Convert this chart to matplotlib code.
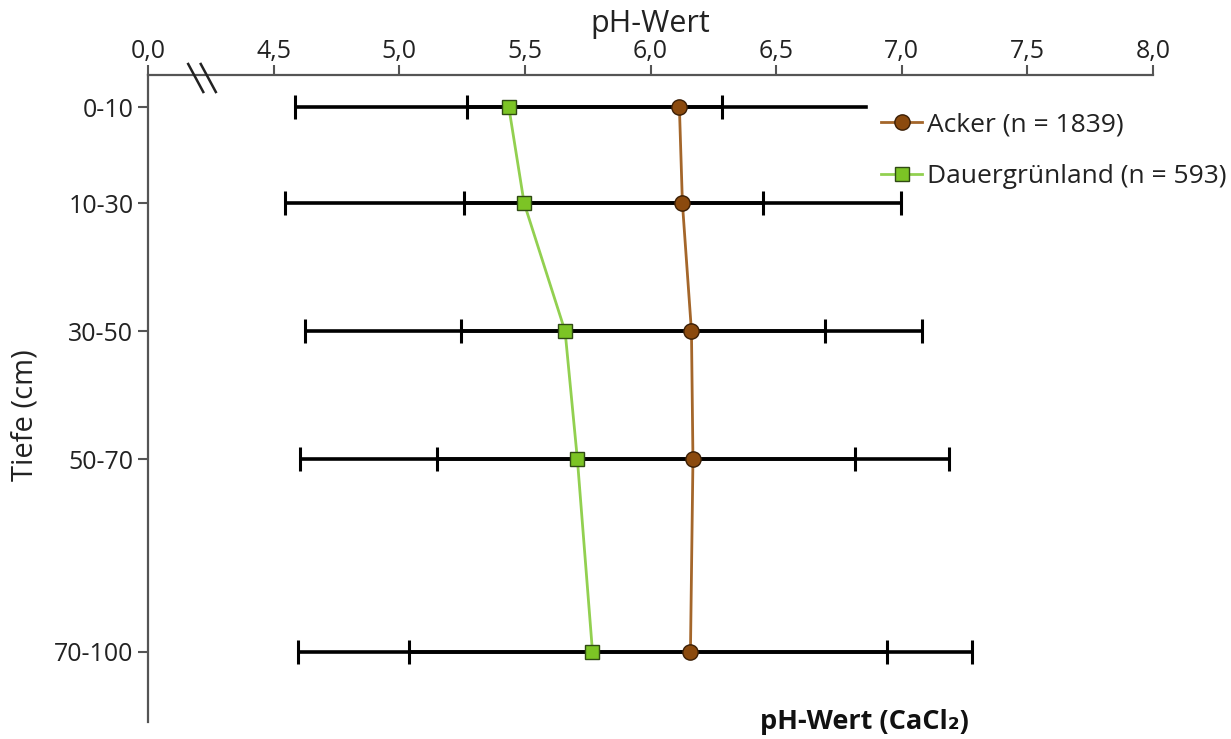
import matplotlib
matplotlib.use('Agg')
import matplotlib.pyplot as plt
from matplotlib.path import Path
from matplotlib.transforms import blended_transform_factory

# ---- data ----
depth_labels = ['0-10', '10-30', '30-50', '50-70', '70-100']
depth_pos = [5, 20, 40, 60, 90]
acker_mean = [6.115, 6.127, 6.163, 6.169, 6.159]
acker_sd = [0.846, 0.870, 0.917, 1.019, 1.120]
gruen_mean = [5.436, 5.497, 5.660, 5.709, 5.769]
gruen_sd = [0.850, 0.951, 1.035, 1.104, 1.172]
x_ticks = [4.0, 4.5, 5.0, 5.5, 6.0, 6.5, 7.0, 7.5, 8.0]
x_ticklabels = ['0,0', '4,5', '5,0', '5,5', '6,0', '6,5', '7,0', '7,5', '8,0']
acker_label = 'Acker (n = 1839)'
gruen_label = 'Dauergrünland (n = 593)'

plt.rcParams['font.family'] = ['Open Sans', 'DejaVu Sans']

W, H = 1231, 739
fig = plt.figure(figsize=(W / 100, H / 100), dpi=100)
ax = fig.add_axes([148 / W, 1 - 722 / H, (1153 - 148) / W, (722 - 75) / H])

axis_col = '#555555'
text_col = '#222222'

# error bars
ax.errorbar(gruen_mean, depth_pos, xerr=gruen_sd, fmt='none', ecolor='black',
            elinewidth=2.6, capsize=8.5, capthick=2.2, zorder=2)
ax.errorbar(acker_mean, depth_pos, xerr=acker_sd, fmt='none', ecolor='black',
            elinewidth=2.6, capsize=8.5, capthick=2.2, zorder=2)

# series
ax.plot(acker_mean, depth_pos, color='#A4662A', lw=2.0, marker='o', ms=11,
        mfc='#8B4A0E', mec='#3A1E05', mew=1.0, zorder=4, label=acker_label)
ax.plot(gruen_mean, depth_pos, color='#92D050', lw=2.0, marker='s', ms=10,
        mfc='#7CC425', mec='#2F4A14', mew=1.0, zorder=4, label=gruen_label)

ax.set_xlim(4.0, 8.0)
ax.set_ylim(101, 0)

ax.xaxis.tick_top()
ax.xaxis.set_label_position('top')
ax.set_xticks(x_ticks)
ax.set_xticklabels(x_ticklabels)
ax.set_yticks(depth_pos)
ax.set_yticklabels(depth_labels)

for s in ['bottom', 'right']:
    ax.spines[s].set_visible(False)
for s in ['top', 'left']:
    ax.spines[s].set_color(axis_col)
    ax.spines[s].set_linewidth(1.6)

ax.tick_params(axis='x', direction='out', length=7, width=1.5, color=axis_col,
               labelsize=18, pad=1, labelcolor=text_col)
ax.tick_params(axis='y', direction='out', length=7, width=1.5, color=axis_col,
               labelsize=18, pad=3.5, labelcolor=text_col)

ax.set_xlabel('pH-Wert', fontsize=22, labelpad=5, color=text_col)
ax.set_ylabel('Tiefe (cm)', fontsize=21, color=text_col)
ax.yaxis.set_label_coords(-0.108, 0.474)

# axis break marks
tr = blended_transform_factory(ax.transData, ax.transAxes)
for x0 in [4.16, 4.21]:
    ax.plot([x0, x0 + 0.06], [1 + 11 / 647, 1 - 17 / 647], color=text_col,
            lw=1.8, transform=tr, clip_on=False, zorder=6)

leg = ax.legend(loc='upper left', bbox_to_anchor=(868 / W, 1 - 99 / H),
                bbox_transform=fig.transFigure, frameon=True, facecolor='white',
                edgecolor='white', framealpha=1, fontsize=19, handlelength=1.55,
                handletextpad=0.2, labelspacing=1.02, borderpad=0.5,
                borderaxespad=0, fancybox=False)
for t in leg.get_texts():
    t.set_color(text_col)


def _legend_box(x0, y0, width, height, mutation_size):
    # white legend background: a little higher at the top, shorter at the bottom
    top = y0 + height + 9
    bottom = y0 + 14
    return Path([(x0, bottom), (x0 + width, bottom), (x0 + width, top),
                 (x0, top), (x0, bottom)], closed=True)


leg.legendPatch.set_boxstyle(_legend_box)

fig.text(864 / W, 1 - 722 / H, 'pH-Wert (CaCl₂)', ha='center', va='center',
         fontsize=19.5, fontweight='bold', color='#111111')

fig.savefig('out.png', dpi=100)
